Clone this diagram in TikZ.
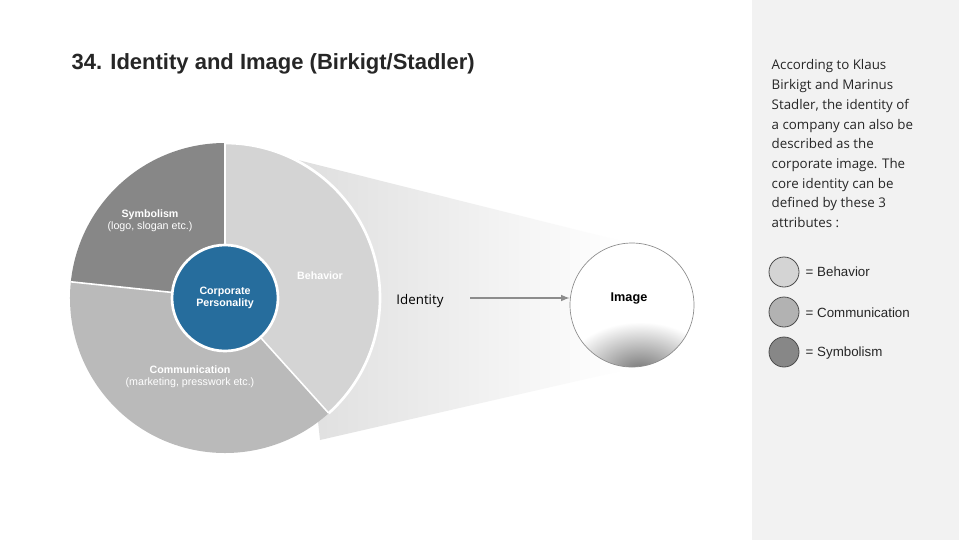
\documentclass[tikz,border=0pt]{standalone}
\usepackage{fontspec}
\setmainfont{Liberation Sans}
\newfontfamily\seg{Open Sans}
\begin{document}
\begin{tikzpicture}[x=0.75pt,y=-0.75pt,
  lbl/.style={font=\fontsize{8}{9}\selectfont,text=white,align=center},
  leg/.style={circle,draw=black!70,line width=0.6pt,minimum size=30*0.75pt,inner sep=0pt},
  legt/.style={anchor=west,font=\fontsize{10}{12}\selectfont,text=black!85}]
\useasboundingbox (0,0) rectangle (959,540);
\fill[white] (0,0) rectangle (959,540);
\fill[black!5] (752,0) rectangle (959,540);
\node[anchor=west,font=\bfseries\fontsize{16.5}{19}\selectfont,text=black!85] (title) at (67,64) {34. Identity and Image (Birkigt/Stadler)};
% funnel
\shade[left color=black!13,right color=white] (290,158) -- (625,242) -- (625,370) -- (320,440) -- cycle;
% pie
\coordinate (c) at (225,298);
\fill[black!17] (c) -- ++(-90:155) arc[start angle=-90,end angle=48,radius=155] -- cycle;
\fill[black!47] (c) -- ++(-90:155) arc[start angle=-90,end angle=-174,radius=155] -- cycle;
\fill[black!27] (c) -- ++(-174:155) arc[start angle=-174,end angle=-312,radius=155] -- cycle;
\draw[white,line width=1.2pt] (c) -- ++(-90:155) (c) -- ++(-174:155) (c) -- ++(48:155);
\draw[white,line width=2pt] (c) ++(48:155) arc[start angle=48,end angle=-90,radius=155];
\fill[draw=white,line width=2pt,fill={rgb,255:red,38;green,109;blue,157}] (c) circle (53);
\node[lbl,font=\bfseries\fontsize{8}{9}\selectfont] (cpt) at (c) {Corporate\\Personality};
\node[lbl] (sym) at (150,221) {\textbf{Symbolism}\\(logo, slogan etc.)};
\node[lbl] (com) at (190,377) {\textbf{Communication}\\(marketing, presswork etc.)};
\node[lbl,font=\bfseries\fontsize{8}{9}\selectfont] (beh) at (320,276) {Behavior};
\node[font=\seg\fontsize{10}{12}\selectfont] (id) at (420,301) {Identity};
% image circle
\begin{scope}
\clip (632,305) circle (62);
\fill[white] (632,305) circle (62);
\shade[inner color=black!55,outer color=white] (640,372) ellipse (75 and 50);
\end{scope}
\node[circle,draw=black!45,line width=0.5pt,minimum size=124*0.75pt] (img) at (632,305) {};
\node[font=\bfseries\fontsize{9.5}{11}\selectfont] (imt) at (629,298) {Image};
\draw[black!45,line width=1.2pt,-latex] (id.east) ++(22,-3) coordinate (a0) -- (img.west |- a0) coordinate (a1);
% legend
\node[leg,fill=black!17] (l1) at (784,272) {};
\node[leg,fill=black!30] (l2) at (784,312) {};
\node[leg,fill=black!47] (l3) at (784,352) {};
\node[legt] at (801,272) {= Behavior};
\node[legt] at (801,313) {= Communication};
\node[legt] at (801,353) {= Symbolism};
\node[anchor=north west,align=left,font=\seg\fontsize{10}{14.8}\selectfont,text=black!85] (desc) at (767,55) {According to Klaus\\Birkigt and Marinus\\Stadler, the identity of\\a company can also be\\described as the\\corporate image. The\\core identity can be\\defined by these 3\\attributes :};
\end{tikzpicture}
\end{document}
